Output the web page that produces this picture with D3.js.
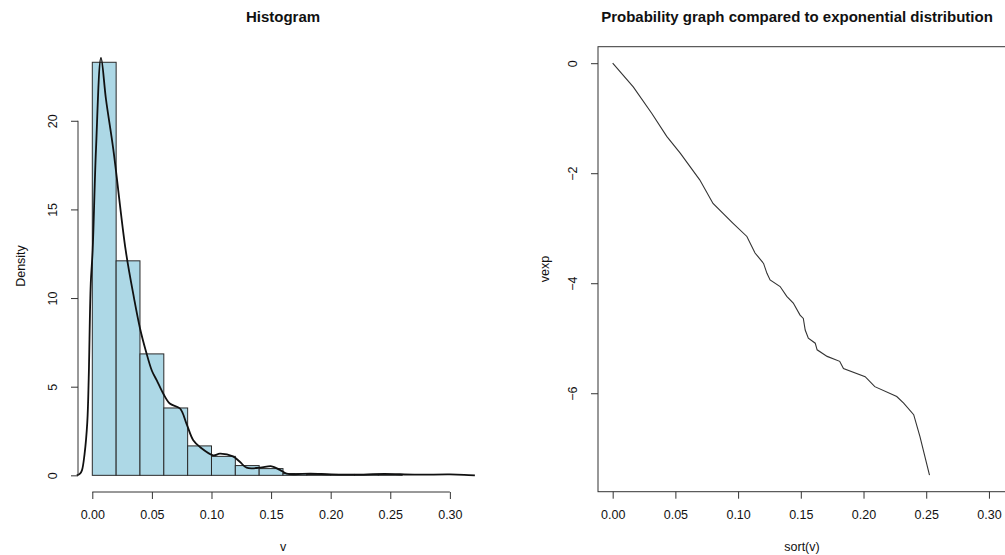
<!DOCTYPE html>
<html>
<head>
<meta charset="utf-8">
<script src="https://cdn.jsdelivr.net/npm/d3@7"></script>
<style>
  body { margin: 0; background: #fff; }
  svg text { font-family: "Liberation Sans", Arial, sans-serif; fill: #111; }
</style>
</head>
<body>
<div id="chart"></div>
<script>
// Histogram bins (break edges) and densities
var breaks = [0, 0.02, 0.04, 0.06, 0.08, 0.10, 0.12, 0.14, 0.16, 0.18, 0.20, 0.22, 0.24, 0.26];
var binDensity = [23.3, 12.1, 6.85, 3.8, 1.66, 1.07, 0.55, 0.38, 0.1, 0.05, 0.05, 0.05, 0.05];

// Kernel density curve
var densX = [-0.013, -0.0103, -0.0087, -0.0065, -0.0042, -0.0030, -0.0013, 0.0003, 0.0031, 0.0073, 0.0115, 0.0176, 0.028, 0.035, 0.040, 0.045, 0.050, 0.054, 0.0596, 0.065, 0.0736, 0.079, 0.0847, 0.0903, 0.1015, 0.107, 0.118, 0.124, 0.1295, 0.1407, 0.1505, 0.157, 0.163, 0.170, 0.183, 0.200, 0.220, 0.245, 0.270, 0.300, 0.312, 0.321];
var densY = [0, 0.1, 0.28, 1.2, 3.0, 5.5, 10.8, 12.7, 18.4, 23.55, 21.2, 18.4, 12.7, 10.0, 8.3, 7.0, 5.9, 5.37, 4.6, 4.05, 3.77, 2.92, 1.98, 1.6, 1.13, 1.22, 1.07, 0.75, 0.43, 0.43, 0.51, 0.32, 0.1, 0.06, 0.1, 0.05, 0.04, 0.08, 0.04, 0.05, 0.03, 0];

// Probability graph: sort(v) against exponential quantiles
var sortV = [0.0, 0.0164, 0.0311, 0.0431, 0.054, 0.0694, 0.080, 0.096, 0.107, 0.1135, 0.1203, 0.123, 0.1255, 0.1335, 0.1388, 0.144, 0.1494, 0.152, 0.1535, 0.156, 0.1615, 0.163, 0.171, 0.181, 0.184, 0.2013, 0.209, 0.2265, 0.232, 0.240, 0.245, 0.2526];
var vexp = [0, -0.43, -0.91, -1.33, -1.64, -2.12, -2.55, -2.91, -3.15, -3.45, -3.64, -3.82, -3.94, -4.06, -4.24, -4.36, -4.58, -4.64, -4.85, -5.0, -5.09, -5.21, -5.33, -5.42, -5.55, -5.70, -5.88, -6.06, -6.18, -6.39, -6.79, -7.49];

// Tick values
var histXTicks = [0, 0.05, 0.10, 0.15, 0.20, 0.25, 0.30];
var histYTicks = [0, 5, 10, 15, 20];
var probXTicks = [0, 0.05, 0.10, 0.15, 0.20, 0.25, 0.30];
var probYTicks = [0, -2, -4, -6];

var svg = d3.select("#chart").append("svg")
  .attr("width", 1005)
  .attr("height", 555);

var axisCol = "#333";
var tickFont = "12.5px";

// ---------- Left panel: histogram ----------
var x1 = d3.scaleLinear().domain([-0.012, 0.332]).range([78, 488]);
var y1 = d3.scaleLinear().domain([-0.94, 24.5]).range([492, 41]);

var bins = binDensity.map((d, i) => ({x0: breaks[i], x1: breaks[i + 1], d: d}));

svg.append("g").selectAll("rect")
  .data(bins).enter()
  .append("rect")
  .attr("x", d => x1(d.x0))
  .attr("y", d => y1(d.d))
  .attr("width", d => x1(d.x1) - x1(d.x0))
  .attr("height", d => y1(0) - y1(d.d))
  .attr("fill", "#add8e6")
  .attr("stroke", "#2a2a2a")
  .attr("stroke-width", 1);

var densPts = densX.map((v, i) => [v, densY[i]]);
svg.append("path")
  .datum(densPts)
  .attr("fill", "none")
  .attr("stroke", "#111")
  .attr("stroke-width", 1.8)
  .attr("d", d3.line().x(d => x1(d[0])).y(d => y1(d[1])).curve(d3.curveCatmullRom));

// x axis
var gx1 = svg.append("g").attr("transform", "translate(0,492)")
  .call(d3.axisBottom(x1).tickValues(histXTicks).tickFormat(d3.format(".2f")).tickSize(7).tickPadding(11));
gx1.select(".domain").attr("d", `M${x1(0)},0H${x1(0.30)}`);

// y axis
var gy1 = svg.append("g").attr("transform", "translate(78,0)")
  .call(d3.axisLeft(y1).tickValues(histYTicks).tickSize(7).tickFormat(d3.format("d")));
gy1.select(".domain").attr("d", `M0,${y1(0)}V${y1(20)}`);
gy1.selectAll(".tick text")
  .attr("x", 0).attr("dy", null)
  .attr("transform", "translate(-25,0) rotate(-90)")
  .attr("text-anchor", "middle")
  .attr("dominant-baseline", "central");

svg.append("text").attr("x", 283).attr("y", 16)
  .attr("text-anchor", "middle").attr("dominant-baseline", "central")
  .style("font-size", "15px").style("font-weight", "bold").text("Histogram");
svg.append("text").attr("x", 283).attr("y", 547)
  .attr("text-anchor", "middle").attr("dominant-baseline", "central")
  .style("font-size", tickFont).text("v");
svg.append("text").attr("transform", "translate(21,266) rotate(-90)")
  .attr("text-anchor", "middle").attr("dominant-baseline", "central")
  .style("font-size", tickFont).text("Density");

// ---------- Right panel: probability graph ----------
var x2 = d3.scaleLinear().domain([-0.0117, 0.3136]).range([598, 1006]);
var y2 = d3.scaleLinear().domain([-7.79, 0.30]).range([491.7, 46.7]);

var probPts = sortV.map((v, i) => [v, vexp[i]]);
svg.append("path")
  .datum(probPts)
  .attr("fill", "none")
  .attr("stroke", "#333")
  .attr("stroke-width", 1.1)
  .attr("d", d3.line().x(d => x2(d[0])).y(d => y2(d[1])));

svg.append("rect")
  .attr("x", 598).attr("y", 46.7)
  .attr("width", 408).attr("height", 445)
  .attr("fill", "none").attr("stroke", axisCol).attr("stroke-width", 1);

var gx2 = svg.append("g").attr("transform", "translate(0,491.7)")
  .call(d3.axisBottom(x2).tickValues(probXTicks).tickFormat(d3.format(".2f")).tickSize(7).tickPadding(11));
gx2.select(".domain").remove();

var gy2 = svg.append("g").attr("transform", "translate(598,0)")
  .call(d3.axisLeft(y2).tickValues(probYTicks).tickSize(7).tickFormat(d => d3.format("d")(d).replace("-", "\u2212")));
gy2.select(".domain").remove();
gy2.selectAll(".tick text")
  .attr("x", 0).attr("dy", null)
  .attr("transform", "translate(-25,0) rotate(-90)")
  .attr("text-anchor", "middle")
  .attr("dominant-baseline", "central");

svg.append("text").attr("x", 797).attr("y", 16)
  .attr("text-anchor", "middle").attr("dominant-baseline", "central")
  .style("font-size", "15px").style("font-weight", "bold")
  .text("Probability graph compared to exponential distribution");
svg.append("text").attr("x", 802).attr("y", 547)
  .attr("text-anchor", "middle").attr("dominant-baseline", "central")
  .style("font-size", tickFont).text("sort(v)");
svg.append("text").attr("transform", "translate(545,269) rotate(-90)")
  .attr("text-anchor", "middle").attr("dominant-baseline", "central")
  .style("font-size", tickFont).text("vexp");

// axis styling
svg.selectAll(".tick line").attr("stroke", axisCol);
svg.selectAll(".domain").attr("stroke", axisCol);
svg.selectAll(".tick text")
  .style("font-size", tickFont)
  .style("font-family", "'Liberation Sans', Arial, sans-serif")
  .attr("fill", "#222");
</script>
</body>
</html>
